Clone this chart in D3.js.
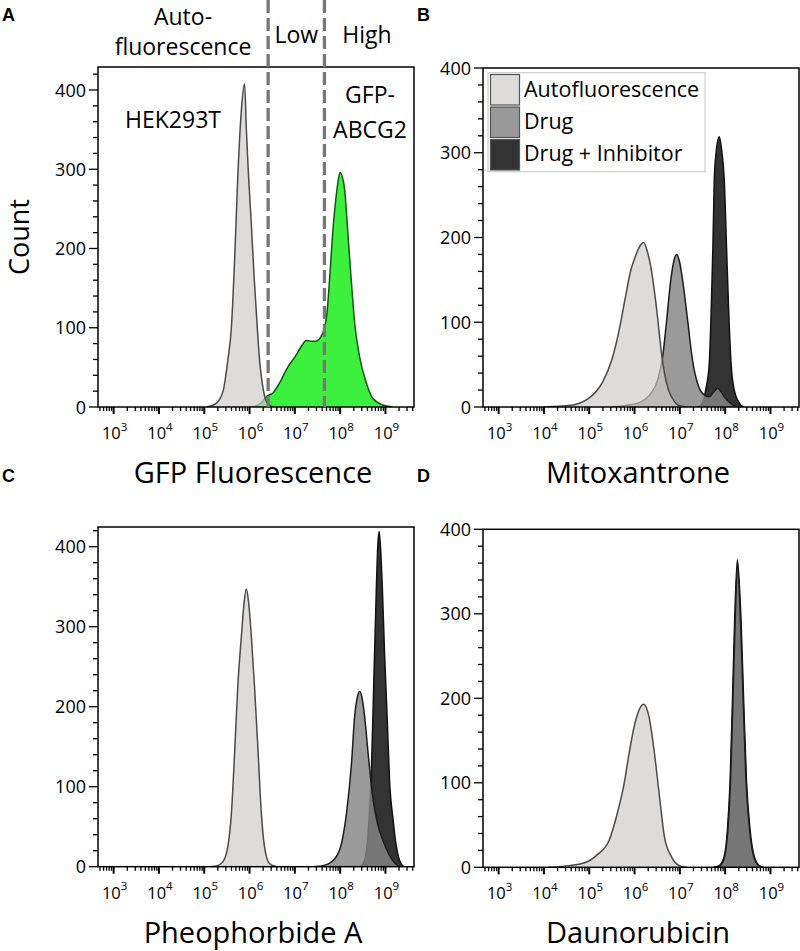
<!DOCTYPE html>
<html><head><meta charset="utf-8">
<script src="https://cdn.jsdelivr.net/npm/d3@7"></script>
<style>body{margin:0;background:#fff} svg{display:block}</style>
</head><body>
<svg id="c" width="800" height="951"></svg>
<script>
// ---------- DATA (x values as log10 of fluorescence, y = count) ----------
const xTickExponents = [3, 4, 5, 6, 7, 8, 9];
const yTickValues = [0, 100, 200, 300, 400];
const legendLabels = ["Autofluorescence", "Drug", "Drug + Inhibitor"];
const panelLetters = ["A", "B", "C", "D"];
const axisTitles = ["GFP Fluorescence", "Mitoxantrone", "Pheophorbide A", "Daunorubicin"];
const gateThresholds = [2.57e6, 4.5e7];       // dashed gate lines in A
const gateLabels = ["Low", "High"];

// Panel A
const aAuto = [[5.05,0],[5.27,5],[5.42,21],[5.52,59],[5.60,101],[5.67,185],[5.74,290],[5.82,375],[5.89,408],[5.93,350],[5.97,300],[6.04,230],[6.10,165],[6.16,110],[6.22,60],[6.28,30],[6.34,12],[6.42,3],[6.52,0]];
const aGfp = [[6.05,0],[6.20,3],[6.30,8],[6.37,13],[6.52,18],[6.66,30],[6.85,51],[7.00,63],[7.14,76],[7.25,84],[7.35,83],[7.46,83],[7.58,89],[7.70,114],[7.77,164],[7.84,223],[7.92,270],[7.97,290],[8.00,296],[8.05,290],[8.10,274],[8.17,219],[8.25,156],[8.32,106],[8.43,63],[8.58,30],[8.72,11],[8.94,2.5],[9.16,0]];
// Panel B (Mitoxantrone)
const bAuto = [[4.0,0],[4.6,2],[4.95,9],[5.15,18],[5.30,30],[5.50,56],[5.65,88],[5.80,130],[5.92,162],[6.00,175],[6.10,188],[6.20,194],[6.28,184],[6.36,165],[6.43,140],[6.51,105],[6.58,70],[6.66,40],[6.75,20],[6.85,9],[6.97,2],[7.15,0]];
const bDrug = [[5.5,0],[5.84,2],[6.14,6],[6.36,16],[6.51,32],[6.62,59],[6.71,103],[6.80,150],[6.88,175],[6.93,180],[6.99,172],[7.06,150],[7.17,103],[7.28,55],[7.39,28],[7.50,16],[7.65,12],[7.75,18],[7.83,22],[7.91,18],[7.98,12],[8.13,4],[8.28,0]];
const bInh = [[7.40,0],[7.50,5],[7.57,20],[7.65,52],[7.69,110],[7.73,189],[7.76,268],[7.80,300],[7.87,319],[7.93,300],[7.98,268],[8.03,189],[8.08,110],[8.13,52],[8.20,20],[8.31,5],[8.40,0]];
// Panel C (Pheophorbide A)
const cAuto = [[5.10,0],[5.27,1],[5.41,6],[5.52,25],[5.60,67],[5.67,142],[5.74,225],[5.82,288],[5.88,330],[5.93,347],[5.98,330],[6.04,288],[6.11,225],[6.19,142],[6.26,67],[6.33,25],[6.44,4],[6.60,0]];
const cDrug = [[7.40,0],[7.66,2],[7.88,10],[8.03,29],[8.14,67],[8.25,129],[8.32,188],[8.38,212],[8.43,219],[8.48,212],[8.54,188],[8.62,140],[8.72,87],[8.82,55],[8.95,32],[9.08,15],[9.20,5],[9.32,0]];
const cInh = [[8.45,0],[8.54,8],[8.61,37],[8.69,121],[8.74,225],[8.80,350],[8.83,400],[8.86,419],[8.89,400],[8.93,350],[8.98,267],[9.04,183],[9.09,108],[9.17,58],[9.24,25],[9.31,8],[9.40,0]];
// Panel D (Daunorubicin)
const dAuto = [[4.10,0],[4.37,1],[4.88,5],[5.18,15],[5.44,32],[5.62,64],[5.77,99],[5.88,135],[5.99,166],[6.07,182],[6.20,193],[6.32,178],[6.43,139],[6.55,84],[6.66,36],[6.81,13],[6.99,2],[7.15,0]];
const dDrug = [[7.78,0],[7.89,2],[7.99,13],[8.06,44],[8.12,103],[8.17,194],[8.22,290],[8.27,356],[8.34,290],[8.40,194],[8.46,103],[8.54,44],[8.63,13],[8.74,2],[8.83,0]];
const dInh = [[7.75,0],[7.87,2],[7.98,13],[8.05,44],[8.11,103],[8.16,194],[8.21,293],[8.27,364],[8.35,293],[8.41,194],[8.47,103],[8.55,44],[8.64,13],[8.75,2],[8.85,0]];

// ---------- STYLE / LAYOUT ----------
const FONT = "'Open Sans', 'Noto Sans', sans-serif";
const STY = {
  auto: {fill: "#cfccc8", op: 0.68, stroke: "#4a4a4a"},
  drug: {fill: "#858585", op: 0.83, stroke: "#1c1c1c"},
  inh:  {fill: "#333333", op: 1, stroke: "#111"},
  gfp:  {fill: "#3ef03e", op: 1, stroke: "#0d5a0d"}
};
const X_EXP = [2.655, 9.63];
const PW = 316;

const svg = d3.select("#c");

function drawPanel(cfg, idx) {
  const g = svg.append("g");
  const x = d3.scaleLog().domain([10 ** X_EXP[0], 10 ** X_EXP[1]]).range([cfg.left, cfg.left + PW]);
  const y = d3.scaleLinear().domain([0, 400]).range([cfg.bottom, cfg.y400]);
  const topVal = y.invert(cfg.top);

  const clipId = "clip" + idx;
  g.append("clipPath").attr("id", clipId).append("rect")
    .attr("x", cfg.left).attr("y", cfg.top).attr("width", PW).attr("height", cfg.bottom - cfg.top);

  const plot = g.append("g").attr("clip-path", `url(#${clipId})`);
  const area = d3.area().x(d => x(10 ** d[0])).y0(y(0)).y1(d => y(d[1])).curve(d3.curveMonotoneX);
  const line = d3.line().x(d => x(10 ** d[0])).y(d => y(d[1])).curve(d3.curveMonotoneX);

  cfg.series.forEach(s => {
    const st = STY[s.kind];
    plot.append("path").datum(s.data).attr("d", area)
      .attr("fill", st.fill).attr("fill-opacity", st.op);
    plot.append("path").datum(s.data).attr("d", line)
      .attr("fill", "none").attr("stroke", st.stroke).attr("stroke-width", 1.5);
  });

  // frame
  g.append("rect").attr("x", cfg.left).attr("y", cfg.top).attr("width", PW).attr("height", cfg.bottom - cfg.top)
    .attr("fill", "none").attr("stroke", "#000").attr("stroke-width", 1.5);

  // y ticks
  const yMinor = d3.range(0, topVal + 0.01, 20);
  g.selectAll(".ymin").data(yMinor).enter().append("line")
    .attr("x1", cfg.left).attr("x2", d => cfg.left - (d % 100 === 0 ? 9 : 5))
    .attr("y1", d => y(d)).attr("y2", d => y(d)).attr("stroke", "#000").attr("stroke-width", 1.3);
  g.selectAll(".ylab").data(yTickValues).enter().append("text")
    .attr("x", cfg.left - 12).attr("y", d => y(d) + 6.5).attr("text-anchor", "end")
    .attr("font-family", FONT).attr("font-size", 18).attr("fill", "#000").text(d => d);

  // x ticks
  const xt = [];
  for (let k = 2; k <= 9; k++) for (let m = 1; m <= 9; m++) {
    const v = m * 10 ** k;
    if (Math.log10(v) >= X_EXP[0] && Math.log10(v) <= X_EXP[1]) xt.push({v, major: m === 1});
  }
  g.selectAll(".xt").data(xt).enter().append("line")
    .attr("x1", d => x(d.v)).attr("x2", d => x(d.v))
    .attr("y1", cfg.bottom).attr("y2", d => cfg.bottom + (d.major ? 7 : 4))
    .attr("stroke", "#000").attr("stroke-width", d => d.major ? 2 : 1.3);
  const lab = g.selectAll(".xl").data(xTickExponents).enter().append("text")
    .attr("x", d => x(10 ** d) + 1).attr("y", cfg.bottom + 32).attr("text-anchor", "middle")
    .attr("font-family", FONT).attr("font-size", 16.5).attr("fill", "#000");
  lab.append("tspan").text("10");
  lab.append("tspan").attr("dy", -8.5).attr("font-size", 11.5).text(d => d);

  // axis title
  g.append("text").attr("x", cfg.left + PW / 2 - 3).attr("y", cfg.bottom + 76).attr("text-anchor", "middle")
    .attr("font-family", FONT).attr("font-size", 29).attr("fill", "#000").text(axisTitles[idx]);

  // panel letter
  g.append("text").attr("x", cfg.letterX).attr("y", cfg.letterY)
    .attr("font-family", "'Liberation Sans', Arial, sans-serif").attr("font-weight", "bold")
    .attr("font-size", 18).attr("fill", "#000").text(panelLetters[idx]);

  return {g, x, y};
}

const cfgs = [
  {left: 98, top: 67, bottom: 407, y400: 90, letterX: 2, letterY: 21,
   series: [{kind: "gfp", data: aGfp}, {kind: "auto", data: aAuto}]},
  {left: 483, top: 68, bottom: 407, y400: 68, letterX: 417, letterY: 21,
   series: [{kind: "inh", data: bInh}, {kind: "drug", data: bDrug}, {kind: "auto", data: bAuto}]},
  {left: 98, top: 527, bottom: 866.7, y400: 546.7, letterX: 2, letterY: 482,
   series: [{kind: "inh", data: cInh}, {kind: "drug", data: cDrug}, {kind: "auto", data: cAuto}]},
  {left: 483, top: 529.3, bottom: 867.3, y400: 529.3, letterX: 417, letterY: 482,
   series: [{kind: "inh", data: dInh}, {kind: "drug", data: dDrug}, {kind: "auto", data: dAuto}]}
];

const P = cfgs.map((c, i) => drawPanel(c, i));

// ---------- Panel A extras ----------
const A = P[0];
A.g.selectAll(".gate").data(gateThresholds).enter().append("line")
  .attr("x1", d => A.x(d)).attr("x2", d => A.x(d)).attr("y1", 0).attr("y2", cfgs[0].bottom)
  .attr("stroke", "#777").attr("stroke-width", 3.3).attr("stroke-dasharray", "13,5");

function txt(t, x, y, size, anchor) {
  svg.append("text").attr("x", x).attr("y", y).attr("text-anchor", anchor || "middle")
    .attr("font-family", FONT).attr("font-size", size).attr("fill", "#000").text(t);
}
txt("Auto-", 183, 25, 23);
txt("fluorescence", 183, 55, 23);
txt(gateLabels[0], (A.x(gateThresholds[0]) + A.x(gateThresholds[1])) / 2, 43, 23);
txt(gateLabels[1], 367, 43, 23);
txt("HEK293T", 173, 128, 23);
txt("GFP-", 370, 103, 23);
txt("ABCG2", 370, 138, 23);

// Count label
svg.append("text").attr("transform", "translate(29,237) rotate(-90)").attr("text-anchor", "middle")
  .attr("font-family", FONT).attr("font-size", 27).attr("fill", "#000").text("Count");

// ---------- Legend in B ----------
const leg = svg.append("g");
leg.append("rect").attr("x", 488).attr("y", 72.7).attr("width", 217).attr("height", 99)
  .attr("fill", "#fff").attr("stroke", "#cfcfcf").attr("stroke-width", 1.2);
const legColors = ["#dedcd9", "#999999", "#333333"];
legendLabels.forEach((l, i) => {
  leg.append("rect").attr("x", 490.5).attr("y", 74.5 + i * 32.5).attr("width", 29).attr("height", 30.5)
    .attr("fill", legColors[i]).attr("stroke", "#555").attr("stroke-width", 1.2);
  leg.append("text").attr("x", 524).attr("y", 97 + i * 32).attr("font-family", FONT)
    .attr("font-size", 21.5).attr("fill", "#000").text(l);
});
</script>
</body></html>
